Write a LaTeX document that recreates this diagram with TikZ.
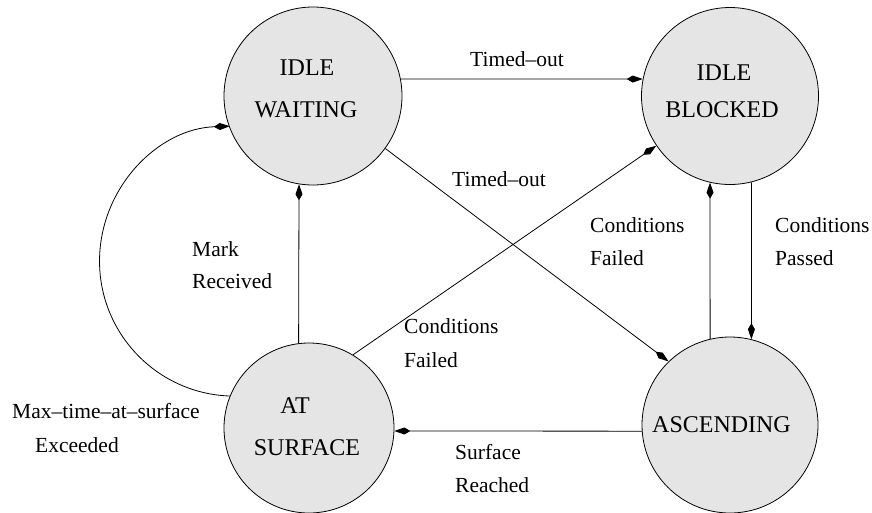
\documentclass[tikz,border=0pt]{standalone}
\usepackage{fontspec}
\setmainfont{Liberation Serif}
\usetikzlibrary{arrows.meta}
\definecolor{stfill}{HTML}{E5E5E5}
\begin{document}
\begin{tikzpicture}[x=1pt,y=-1pt,
  state/.style={circle,draw=black,line width=0.8pt,fill=stfill,inner sep=0pt},
  stxt/.style={font=\fontsize{24}{28}\selectfont,anchor=base,inner sep=0pt},
  lbl/.style={font=\fontsize{21.5}{26}\selectfont,anchor=base west,inner sep=0pt},
  lblc/.style={font=\fontsize{21.5}{26}\selectfont,anchor=base,inner sep=0pt},
  conn/.style={line width=0.8pt,-{Kite[length=16pt,width=7pt,inset=6pt]}}]
\useasboundingbox (0,0) rectangle (872,512);
% states
\node[state,minimum size=178pt] (IW) at (313,96) {};
\node[state,minimum size=177pt] (IB) at (730,96) {};
\node[state,minimum size=170pt] (AS) at (309,428) {};
\node[state,minimum size=176pt] (ASC) at (730,425) {};
% state texts
\node[stxt] (IWa) at (307,75) {IDLE};
\node[stxt] (IWb) at (306,117) {WAITING};
\node[stxt] (IBa) at (724,80) {IDLE};
\node[stxt] (IBb) at (722,117) {BLOCKED};
\node[stxt] (ASa) at (295,413) {AT};
\node[stxt] (ASb) at (307,455) {SURFACE};
\node[stxt] (ASCa) at (721.5,432) {ASCENDING};
% connectors
\draw[conn] (IW.11) -- (IB.169);
\draw[conn] (IW.-36.4) -- (ASC.134.5);
\draw[conn] (AS.59.4) -- (IB.214.6);
\draw[conn] (ASC.103) -- (IB.-103);
\draw[conn] (IB.-76) -- (ASC.76);
\draw[conn] (AS.97.4) -- (IW.-99.7);
\draw[conn] (AS.158) arc[start angle=-92, end angle=-268, radius=135pt];
\draw[conn] (ASC.184.6) -- (AS.-2.7);
% labels
\node[lblc] (l1) at (517,66) {Timed–out};
\node[lblc] (l2) at (499,186) {Timed–out};
\node[lbl] (l3a) at (590,232) {Conditions};
\node[lbl] (l3b) at (590,265) {Failed};
\node[lbl] (l4a) at (775,232) {Conditions};
\node[lbl] (l4b) at (775,265) {Passed};
\node[lbl] (l5a) at (192,256) {Mark};
\node[lbl] (l5b) at (192,288) {Received};
\node[lbl] (l6a) at (404,333) {Conditions};
\node[lbl] (l6b) at (404,367) {Failed};
\node[lbl] (l7a) at (12,418) {Max–time–at–surface};
\node[lbl] (l7b) at (35,452) {Exceeded};
\node[lbl] (l8a) at (455,459) {Surface};
\node[lbl] (l8b) at (455,492) {Reached};
\end{tikzpicture}
\end{document}
